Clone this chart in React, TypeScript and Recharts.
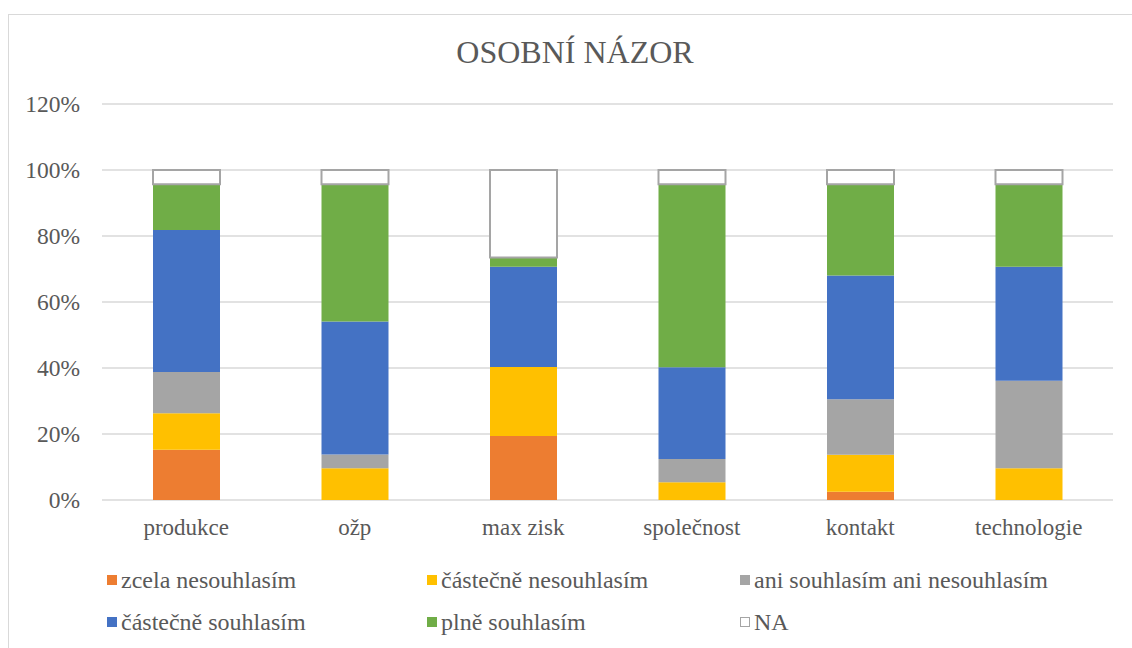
import { Bar, BarChart, CartesianGrid, XAxis, YAxis } from "recharts";

const categories = ["produkce", "ožp", "max zisk", "společnost", "kontakt", "technologie"];

const zcelaNesouhlasim = [15.2, 0, 19.4, 0, 2.5, 0];
const castecneNesouhlasim = [11.1, 9.6, 20.9, 5.4, 11.2, 9.6];
const aniAni = [12.5, 4.2, 0, 7.0, 16.8, 26.5];
const castecneSouhlasim = [43.0, 40.3, 30.4, 27.8, 37.5, 34.6];
const plneSouhlasim = [13.9, 41.6, 2.8, 55.5, 27.7, 25.0];
const na = [4.3, 4.3, 26.5, 4.3, 4.3, 4.3];

const yTicks = [0, 20, 40, 60, 80, 100, 120];

const series = [
  { key: "zcela", name: "zcela nesouhlasím", color: "#ED7D31", values: zcelaNesouhlasim },
  { key: "castNes", name: "částečně nesouhlasím", color: "#FFC000", values: castecneNesouhlasim },
  { key: "ani", name: "ani souhlasím ani nesouhlasím", color: "#A5A5A5", values: aniAni },
  { key: "castSou", name: "částečně souhlasím", color: "#4472C4", values: castecneSouhlasim },
  { key: "plne", name: "plně souhlasím", color: "#70AD47", values: plneSouhlasim },
  { key: "na", name: "NA", color: "#FFFFFF", values: na },
];

const data = categories.map((cat, i) => {
  const row: Record<string, string | number> = { cat };
  series.forEach((s) => (row[s.key] = s.values[i]));
  return row;
});

// legend laid out like the original: 3 columns, 2 rows
const legendCols = [107, 427, 740];
const legendRows = [580, 622];

const font = "Liberation Serif";
const textColor = "#595959";

export default function App() {
  return (
    <div
      style={{
        position: "absolute",
        left: 0,
        top: 0,
        width: 1132,
        height: 648,
        background: "#fff",
        overflow: "hidden",
        fontFamily: font,
      }}
    >
      <div
        style={{
          position: "absolute",
          left: 8,
          top: 14,
          width: 1140,
          height: 660,
          border: "1.5px solid #d9d9d9",
        }}
      />
      <div
        style={{
          position: "absolute",
          top: 33,
          left: 0,
          width: 1150,
          textAlign: "center",
          fontSize: 32,
          color: textColor,
          lineHeight: "38px",
        }}
      >
        OSOBNÍ NÁZOR
      </div>
      <div style={{ position: "absolute", left: 0, top: 0 }}>
        <BarChart
          width={1132}
          height={560}
          data={data}
          margin={{ top: 104, right: 19, left: 0, bottom: 0 }}
          style={{ fontFamily: font }}
        >
          <CartesianGrid vertical={false} stroke="#d9d9d9" strokeWidth={1.5} />
          <XAxis
            dataKey="cat"
            height={60}
            axisLine={false}
            tickLine={false}
            tickSize={0}
            tickMargin={19}
            tick={{ fontSize: 23, fill: textColor, style: { fontFamily: font } }}
          />
          <YAxis
            width={102}
            domain={[0, 120]}
            ticks={yTicks}
            axisLine={false}
            tickLine={false}
            tickSize={0}
            tickMargin={22}
            tickFormatter={(v: number) => `${v}%`}
            tick={{ fontSize: 23.5, fill: textColor, style: { fontFamily: font } }}
          />
          {series.map((s) => (
            <Bar
              key={s.key}
              dataKey={s.key}
              name={s.name}
              stackId="a"
              fill={s.color}
              stroke={s.key === "na" ? "#A5A5A5" : undefined}
              strokeWidth={s.key === "na" ? 2 : 0}
              barSize={67}
              isAnimationActive={false}
            />
          ))}
        </BarChart>
      </div>
      {series.map((s, i) => (
        <div
          key={s.key}
          style={{
            position: "absolute",
            left: legendCols[i % 3],
            top: legendRows[Math.floor(i / 3)] - 14,
            height: 28,
            display: "flex",
            alignItems: "center",
            fontSize: 24,
            color: textColor,
            whiteSpace: "nowrap",
          }}
        >
          <span
            style={{
              display: "inline-block",
              width: s.key === "na" ? 8 : 10,
              height: s.key === "na" ? 8 : 10,
              background: s.color,
              border: s.key === "na" ? "1.5px solid #A5A5A5" : "none",
              marginRight: 4,
            }}
          />
          {s.name}
        </div>
      ))}
    </div>
  );
}
